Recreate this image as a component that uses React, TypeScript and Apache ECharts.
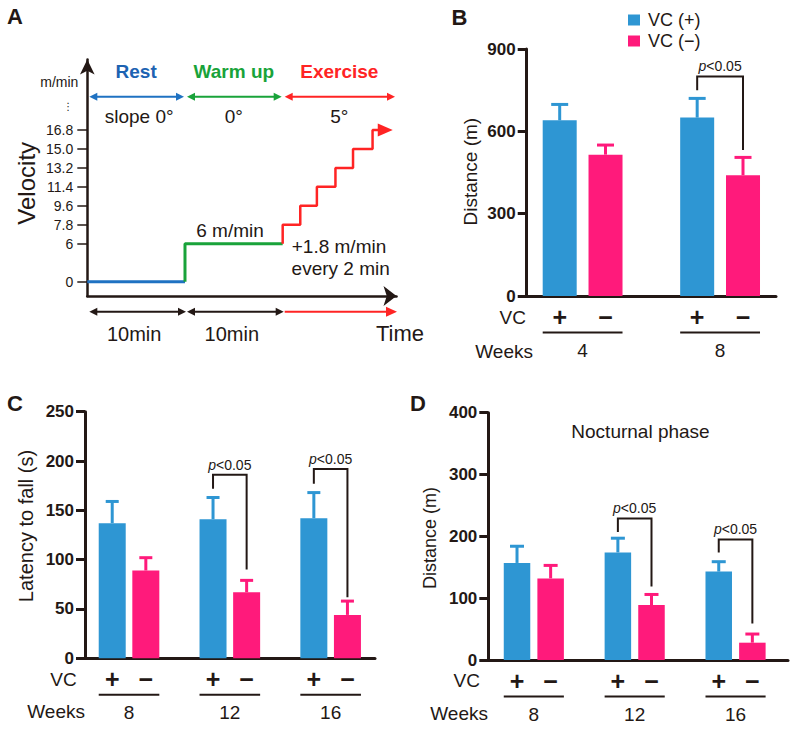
import React, { useEffect, useRef } from 'react';
import * as echarts from 'echarts';

const FONT = '"Liberation Sans", Arial, Helvetica, sans-serif';
const INK = '#231815';
const BLUE = '#2e96d3';
const PINK = '#ff1a7b';
const PHASE_COLORS = ['#1d63b2', '#19a33a', '#ff2424'];
const LINE_COLORS = ['#1f72c2', '#19a33a', '#ff2424'];
const BOTTOM_COLORS = [INK, INK, '#ff2424'];

// ---------- Panel A: protocol ----------
const velocityTicks = [0, 6, 7.8, 9.6, 11.4, 13.2, 15.0, 16.8];
const velocityTickLabels = ['0', '6', '7.8', '9.6', '11.4', '13.2', '15.0', '16.8'];
const restTime = [0, 10];
const restVel = [0, 0];
const warmTime = [10, 20];
const warmVel = [0, 6];
const exerciseTime = [20, 21.8, 23.5, 25.4, 27.2, 29.2, 30.5];
const exerciseVel = [6, 7.8, 9.6, 11.4, 13.2, 15.0, 16.8];
const phaseNames = ['Rest', 'Warm up', 'Exercise'];
const phaseStart = [0, 10, 20];
const phaseEnd = [10, 20, 31.6];
const phaseSlopes = ['slope 0°', '0°', '5°'];
const phaseDurations = ['10min', '10min', 'Time'];

// ---------- Panel B: treadmill distance ----------
const weeksB = ['4', '8'];
const distPlus = [640, 650];
const distPlusErr = [58, 70];
const distMinus = [515, 440];
const distMinusErr = [35, 65];
const sigBGroup = [1];
const sigBTop = [800];
const sigBLeftFoot = [750];
const sigBRightFoot = [532];

// ---------- Panel C: rotarod ----------
const weeksC = ['8', '12', '16'];
const latPlus = [137, 141, 142];
const latPlusErr = [22, 22, 26];
const latMinus = [89, 67, 44];
const latMinusErr = [13, 12, 14];
const sigCGroup = [1, 2];
const sigCTop = [186, 192];
const sigCLeftFoot = [172, 177];
const sigCRightFoot = [90, 62];

// ---------- Panel D: nocturnal activity ----------
const weeksD = ['8', '12', '16'];
const nocPlus = [157, 174, 143];
const nocPlusErr = [27, 23, 16];
const nocMinus = [132, 89, 28];
const nocMinusErr = [21, 17, 14];
const sigDGroup = [1, 2];
const sigDTop = [229, 195];
const sigDLeftFoot = [207, 174];
const sigDRightFoot = [119, 59];

// broken velocity axis: 0..6 compressed, then 1.8 m/min per step
const ZERO_OFFSET = 0.754;
function velPos(v: number) {
  return ZERO_OFFSET + (v <= 6 ? v / 3 : 2 + (v - 6) / 1.8);
}
const velLabelPos = velocityTicks.map(velPos);
const DOTS_POS = 9.98;

// rows of panel A annotations (in axis step units)
const ROW_TITLE = 11.83;
const ROW_TOP_ARROW = 10.51;
const ROW_SLOPE = 9.49;
const ROW_BOTTOM_ARROW = -0.83;
const ROW_DURATION = -2.0;

function head(x: number, y: number, dir: number, len: number, half: number, color: string) {
  return {
    type: 'polygon',
    shape: { points: [[x, y], [x - dir * len, y - half], [x - dir * len, y + half]] },
    style: { fill: color },
  };
}

function textEl(text: string, x: number, y: number, size: number, color: string, weight = 'normal', align = 'center') {
  return {
    type: 'text',
    style: {
      text, x, y, fill: color, fontSize: size, fontWeight: weight, fontFamily: FONT,
      align, verticalAlign: 'middle',
    },
  };
}

const phaseRender = (params: any, api: any) => {
  const i = api.value(2);
  const s = api.coord([api.value(0), 0])[0];
  const e = api.coord([api.value(1), 0])[0];
  const yTitle = api.coord([0, ROW_TITLE])[1];
  const yTop = api.coord([0, ROW_TOP_ARROW])[1];
  const ySlope = api.coord([0, ROW_SLOPE])[1];
  const yBot = api.coord([0, ROW_BOTTOM_ARROW])[1];
  const yDur = api.coord([0, ROW_DURATION])[1];
  const c = PHASE_COLORS[i];
  const lc = LINE_COLORS[i];
  const bc = BOTTOM_COLORS[i];
  const x1 = s + 2;
  const x2 = e - 1;
  const bx1 = s + 2;
  const bx2 = e + 1;
  const children: any[] = [
    { type: 'line', shape: { x1: x1 + 4, y1: yTop, x2: x2 - 4, y2: yTop }, style: { stroke: lc, lineWidth: 2 } },
    head(x1, yTop, -1, 8, 4, lc),
    head(x2, yTop, 1, 8, 4, lc),
    textEl(phaseNames[i], (s + e) / 2, yTitle, 19, c, 'bold'),
    textEl(phaseSlopes[i], (s + e) / 2 + (i === 0 ? 3 : 0), ySlope, 19, INK),
  ];
  const single = i === 2;
  children.push({ type: 'line', shape: { x1: single ? bx1 : bx1 + 4, y1: yBot, x2: bx2 - 5, y2: yBot }, style: { stroke: bc, lineWidth: 2 } });
  if (!single) children.push(head(bx1, yBot, -1, 8, 4, bc));
  children.push(head(bx2, yBot, 1, single ? 11 : 8, single ? 5 : 4, bc));
  children.push(textEl(phaseDurations[i], single ? e + 4 : (s + e) / 2 - 2, yDur, single ? 22 : 20, INK));
  return { type: 'group', children };
};

function errorRender(color: string, capHalf: number) {
  return (params: any, api: any) => {
    const x = api.value(0);
    const v = api.value(1);
    const err = api.value(2);
    const p0 = api.coord([x, v]);
    const p1 = api.coord([x, v + err]);
    return {
      type: 'group',
      children: [
        { type: 'line', shape: { x1: p0[0], y1: p0[1], x2: p1[0], y2: p1[1] }, style: { stroke: color, lineWidth: 3 } },
        { type: 'line', shape: { x1: p1[0] - capHalf, y1: p1[1], x2: p1[0] + capHalf, y2: p1[1] }, style: { stroke: color, lineWidth: 3 } },
      ],
    };
  };
}

const bracketRender = (params: any, api: any) => {
  const a = api.coord([api.value(0), api.value(2)]);
  const t1 = api.coord([api.value(0), api.value(3)]);
  const t2 = api.coord([api.value(1), api.value(3)]);
  const b = api.coord([api.value(1), api.value(4)]);
  return {
    type: 'group',
    children: [
      { type: 'polyline', shape: { points: [a, t1, t2, b] }, style: { stroke: INK, lineWidth: 2, fill: null } },
      {
        type: 'text',
        style: {
          x: (t1[0] + t2[0]) / 2, y: t1[1] - 10, text: '{i|p}<0.05', align: 'center', verticalAlign: 'middle',
          fontSize: 14, fontFamily: FONT, fill: INK,
          rich: { i: { fontStyle: 'italic', fontSize: 14, fontFamily: FONT, fill: INK } },
        },
      },
    ],
  };
};

function groupRender(bw: number, weeks: string[]) {
  return (params: any, api: any) => {
    const g = api.value(2);
    const pp = api.coord([g * 3, 0]);
    const pm = api.coord([g * 3 + 1, 0]);
    const y0 = pp[1];
    return {
      type: 'group',
      children: [
        textEl('+', pp[0], y0 + 21, 25, INK, 'bold'),
        textEl('−', pm[0], y0 + 21, 25, INK, 'bold'),
        { type: 'line', shape: { x1: pp[0] - bw / 2, y1: y0 + 36.5, x2: pm[0] + bw / 2, y2: y0 + 36.5 }, style: { stroke: INK, lineWidth: 2 } },
        textEl(weeks[g], (pp[0] + pm[0]) / 2, y0 + 54, 19, INK),
      ],
    };
  };
}

function barPanel(idx: number, weeks: string[], plus: number[], plusErr: number[], minus: number[], minusErr: number[],
  sigGroup: number[], sigTop: number[], sigL: number[], sigR: number[], bw: number, cap: number) {
  const common = { xAxisIndex: idx, yAxisIndex: idx, silent: true };
  return [
    { ...common, type: 'bar', name: 'VC (+)', barWidth: bw, barGap: '-100%', itemStyle: { color: BLUE },
      data: plus.map((v, g) => [g * 3, v]) },
    { ...common, type: 'bar', name: 'VC (−)', barWidth: bw, barGap: '-100%', itemStyle: { color: PINK },
      data: minus.map((v, g) => [g * 3 + 1, v]) },
    { ...common, type: 'custom', clip: false, renderItem: errorRender(BLUE, cap), encode: { x: 0, y: [1, 2] },
      data: plus.map((v, g) => [g * 3, v, plusErr[g]]) },
    { ...common, type: 'custom', clip: false, renderItem: errorRender(PINK, cap), encode: { x: 0, y: [1, 2] },
      data: minus.map((v, g) => [g * 3 + 1, v, minusErr[g]]) },
    { ...common, type: 'custom', clip: false, renderItem: bracketRender, encode: { x: [0, 1], y: [2, 3, 4] },
      data: sigGroup.map((g, k) => [g * 3, g * 3 + 1, sigL[k], sigTop[k], sigR[k]]) },
    { ...common, type: 'custom', clip: false, renderItem: groupRender(bw, weeks), encode: { x: 0, y: 1 },
      data: weeks.map((w, g) => [g * 3 + 0.5, 0, g]) },
  ];
}

const barYAxis = (idx: number, max: number, interval: number) => ({
  type: 'value', gridIndex: idx, min: 0, max, interval,
  axisLine: { show: true, onZero: false, lineStyle: { color: INK, width: 3 } },
  axisTick: { show: true, length: 9, lineStyle: { color: INK, width: 3 } },
  axisLabel: { fontSize: 17, fontWeight: 'bold', fontFamily: FONT, color: INK, margin: 11 },
  splitLine: { show: false },
});
const barXAxis = (idx: number, min: number, max: number) => ({
  type: 'value', gridIndex: idx, min, max,
  axisLine: { show: true, onZero: false, lineStyle: { color: INK, width: 3 } },
  axisTick: { show: false }, axisLabel: { show: false }, splitLine: { show: false },
});

function rotText(text: string, x: number, y: number, size: number) {
  return {
    type: 'text', x, y, rotation: Math.PI / 2,
    style: { text, fontSize: size, fontFamily: FONT, fill: INK, align: 'center', verticalAlign: 'middle', textAlign: 'center', textVerticalAlign: 'middle' },
  };
}
function gText(text: string, x: number, y: number, size: number, weight = 'normal', align = 'center') {
  return {
    type: 'text', x, y,
    style: { text, fontSize: size, fontWeight: weight, fontFamily: FONT, fill: INK, align, verticalAlign: 'middle', textAlign: align, textVerticalAlign: 'middle' },
  };
}

function buildOption() {
  const redLine = exerciseTime.map((t, k) => [t, velPos(exerciseVel[k])]);
  return {
    animation: false,
    backgroundColor: '#ffffff',
    textStyle: { fontFamily: FONT },
    legend: {
      data: ['VC (+)', 'VC (−)'], orient: 'vertical', left: 623, top: 6, itemWidth: 12, itemHeight: 11, itemGap: 3,
      icon: 'rect', selectedMode: false,
      textStyle: { fontSize: 18, fontFamily: FONT, color: INK, padding: [0, 0, 0, 3] },
    },
    grid: [
      { left: 87.3, top: 59.5, width: 309.2, height: 236.5 },
      { left: 526.7, top: 49, width: 249.3, height: 247 },
      { left: 85, top: 411.7, width: 290, height: 246.6 },
      { left: 488.3, top: 412.7, width: 299.7, height: 247.3 },
    ],
    xAxis: [
      {
        type: 'value', gridIndex: 0, min: 0, max: 31.65,
        axisLine: { show: true, onZero: false, symbol: ['none', 'arrow'], symbolSize: [15, 13], lineStyle: { color: INK, width: 2.5 } },
        axisTick: { show: false }, axisLabel: { show: false }, splitLine: { show: false },
      },
      barXAxis(1, -0.72, 4.72),
      barXAxis(2, -0.81, 7.82),
      barXAxis(3, -0.854, 8.06),
    ],
    yAxis: [
      {
        type: 'value', gridIndex: 0, min: 0, max: 12.47,
        axisLine: { show: true, onZero: false, symbol: ['none', 'arrow'], symbolSize: [11, 15], lineStyle: { color: INK, width: 2.5 } },
        axisTick: { show: true, length: 10, customValues: velLabelPos, lineStyle: { color: INK, width: 1.5 } },
        axisLabel: {
          customValues: [...velLabelPos, DOTS_POS], fontSize: 14, fontFamily: FONT, color: INK, margin: 14,
          formatter: (v: number) => {
            if (Math.abs(v - DOTS_POS) < 0.01) return '{d|⋮}';
            const i = velLabelPos.findIndex((p) => Math.abs(p - v) < 0.01);
            return i >= 0 ? velocityTickLabels[i] : '';
          },
          rich: { d: { fontSize: 10, fontFamily: '"DejaVu Sans"', color: INK } },
        },
        splitLine: { show: false },
      },
      barYAxis(1, 900, 300),
      barYAxis(2, 250, 50),
      barYAxis(3, 400, 100),
    ],
    series: [
      { type: 'line', xAxisIndex: 0, yAxisIndex: 0, silent: true, symbol: 'none', step: 'start',
        lineStyle: { color: LINE_COLORS[0], width: 3 },
        data: restTime.map((t, k) => [t, velPos(restVel[k])]) },
      { type: 'line', xAxisIndex: 0, yAxisIndex: 0, silent: true, symbol: 'none', step: 'start',
        lineStyle: { color: LINE_COLORS[1], width: 3 },
        data: warmTime.map((t, k) => [t, velPos(warmVel[k])]) },
      { type: 'line', xAxisIndex: 0, yAxisIndex: 0, silent: true, symbol: 'none', step: 'start',
        lineStyle: { color: LINE_COLORS[2], width: 2.5 },
        data: redLine,
        markPoint: {
          silent: true, symbol: 'triangle', symbolSize: [13, 15], symbolRotate: -90,
          itemStyle: { color: LINE_COLORS[2] }, label: { show: false },
          data: [{ coord: redLine[redLine.length - 1] }],
        } },
      { type: 'custom', xAxisIndex: 0, yAxisIndex: 0, silent: true, clip: false, renderItem: phaseRender,
        encode: { x: [0, 1], y: 3 },
        data: phaseNames.map((n, i) => [phaseStart[i], phaseEnd[i], i, 0]) },
      ...barPanel(1, weeksB, distPlus, distPlusErr, distMinus, distMinusErr, sigBGroup, sigBTop, sigBLeftFoot, sigBRightFoot, 34, 8.5),
      ...barPanel(2, weeksC, latPlus, latPlusErr, latMinus, latMinusErr, sigCGroup, sigCTop, sigCLeftFoot, sigCRightFoot, 27, 6.5),
      ...barPanel(3, weeksD, nocPlus, nocPlusErr, nocMinus, nocMinusErr, sigDGroup, sigDTop, sigDLeftFoot, sigDRightFoot, 26.5, 7),
    ],
    graphic: [
      gText('A', 15, 16, 22, 'bold'),
      gText('B', 459.5, 17.5, 22, 'bold'),
      gText('C', 15, 403, 22, 'bold'),
      gText('D', 418, 403, 22, 'bold'),
      rotText('Velocity', 26.7, 183.3, 24),
      gText('m/min', 59.3, 81.7, 14),
      gText('6 m/min', 230, 230, 19),
      gText('+1.8 m/min', 339, 246.7, 19),
      gText('every 2 min', 340.7, 268.3, 19),
      rotText('Distance (m)', 470.8, 171.7, 19),
      rotText('Latency to fall (s)', 26, 526, 20),
      rotText('Distance (m)', 430, 538, 18),
      gText('Nocturnal phase', 640.5, 431.7, 19),
      gText('VC', 526, 317.5, 19, 'normal', 'right'),
      gText('Weeks', 533, 351, 19, 'normal', 'right'),
      gText('VC', 76.7, 679.3, 19, 'normal', 'right'),
      gText('Weeks', 85, 711.7, 19, 'normal', 'right'),
      gText('VC', 480, 680.7, 19, 'normal', 'right'),
      gText('Weeks', 488, 713, 19, 'normal', 'right'),
    ],
  };
}

export default function App() {
  const ref = useRef<HTMLDivElement>(null);
  useEffect(() => {
    if (!ref.current) return;
    const chart = echarts.init(ref.current, null, { renderer: 'svg' });
    chart.setOption(buildOption() as any);
    return () => chart.dispose();
  }, []);
  return <div ref={ref} style={{ position: 'absolute', left: 0, top: 0, width: 796, height: 730 }} />;
}
